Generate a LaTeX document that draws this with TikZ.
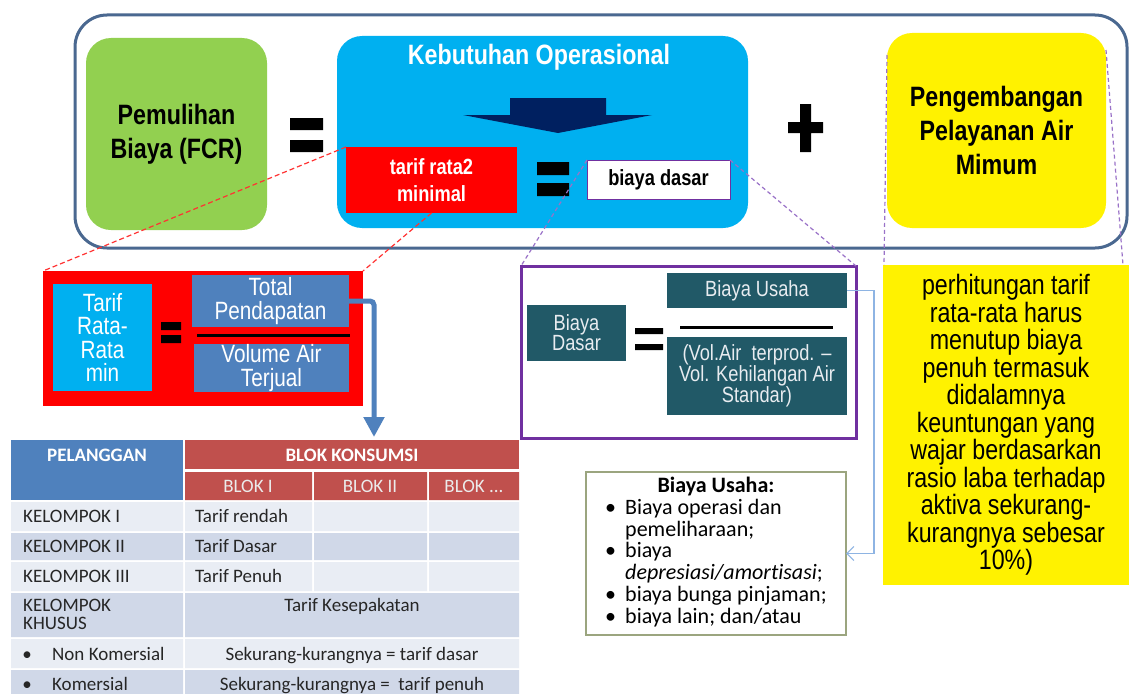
\documentclass[tikz,border=0pt]{standalone}
\usepackage{fontspec}
\setmainfont{Liberation Sans}
\newfontfamily\narrowfont[FakeStretch=0.83]{Liberation Sans}
\newfontfamily\calfont[Ligatures=NoCommon]{Carlito}
\usetikzlibrary{arrows.meta,positioning}
\definecolor{fcrgreen}{HTML}{92D050}
\definecolor{opsblue}{HTML}{00B0F0}
\definecolor{navyarrow}{HTML}{002060}
\definecolor{framegray}{HTML}{4A6890}
\definecolor{ptblue}{HTML}{4F81BD}
\definecolor{tealbox}{HTML}{215967}
\definecolor{purpleframe}{HTML}{7030A0}
\definecolor{dashpurple}{HTML}{9A72C8}
\definecolor{hdrred}{HTML}{C0504D}
\definecolor{rowlight}{HTML}{E9EDF4}
\definecolor{rowdark}{HTML}{D0D8E8}
\definecolor{linkblue}{HTML}{8EB4E3}
\definecolor{listframe}{HTML}{9BA57F}
\definecolor{palewhite}{HTML}{E8ECF0}
\tikzset{
  box/.style={inner sep=0pt, outer sep=0pt, align=center},
  roundbox/.style={box, rounded corners=25pt},
  headline/.style={font={\narrowfont\bfseries\fontsize{28}{34}\selectfont}},
  formtext/.style={font={\narrowfont\fontsize{25}{24}\selectfont}, text=white},
  tealtext/.style={box, fill=tealbox, text=palewhite, font={\narrowfont\fontsize{22}{21}\selectfont}},
  reddash/.style={red!80, line width=1.2pt, dash pattern=on 5pt off 3pt},
  purpledash/.style={dashpurple, line width=1.2pt, dash pattern=on 4pt off 3pt},
  cell/.style={inner sep=0pt, text height=12pt, text depth=0pt, text=black!85,
    font={\calfont\fontsize{19}{18}\selectfont}},
  hdr/.style={cell, text=white, font={\calfont\bfseries\fontsize{19}{18}\selectfont}},
  subhdr/.style={cell, text=white!92!black}
}
\begin{document}
\begin{tikzpicture}[x=1pt,y=-1pt]
  \clip (0,0) rectangle (1129,693);
  \fill[white] (0,0) rectangle (1129,693);

  % top row: FCR = operational needs + development
  \node[box, draw=framegray, line width=3pt, rounded corners=32pt,
    minimum width=1052pt, minimum height=233pt] (frame) at (601,131.5) {};
  \node[roundbox, fill=fcrgreen, minimum width=181pt, minimum height=192pt, headline] (fcr) at (176.5,134) {Pemulihan\\Biaya (FCR)};
  \fill (290,118) rectangle (323,130) (290,140) rectangle (323,152);
  \node[roundbox, fill=opsblue, minimum width=411pt, minimum height=192pt] (ops) at (542.5,132) {};
  \node[headline, text=white, inner sep=0pt] (opstitle) at (539,57) {Kebutuhan Operasional};
  \fill[navyarrow] (510,98) -- (606,98) -- (606,115) -- (652,115) -- (558,133) -- (463,115) -- (510,115) -- cycle;
  \node[box, fill=red, text=white, minimum width=171pt, minimum height=66pt,
    font={\narrowfont\bfseries\fontsize{22}{27}\selectfont}] (tarifmin) at (431.5,180) {tarif rata2\\minimal};
  \fill (537,162) rectangle (569,175) (537,183) rectangle (569,196);
  \node[box, fill=white, draw=purpleframe, line width=1pt, minimum width=143pt, minimum height=39pt,
    font={\narrowfont\bfseries\fontsize{22}{26}\selectfont}] (dasar) at (658.5,179.5) {biaya dasar};
  \fill (800,104) rectangle (811,152) (788,122) rectangle (823,133);
  \node[roundbox, fill=yellow, minimum width=219pt, minimum height=195pt, headline] (dev) at (996.5,130.5) {Pengembangan\\Pelayanan Air\\Mimum};

  % average tariff formula
  \node[box, fill=red, minimum width=320pt, minimum height=135pt] (formula) at (203,338.5) {};
  \node[box, fill=opsblue, minimum width=99pt, minimum height=107pt, formtext,
    font={\narrowfont\fontsize{25}{23.5}\selectfont}] (avg) at (102.5,337.5) {Tarif\\Rata-\\Rata\\min};
  \fill (161,322) rectangle (181,330) (161,335) rectangle (181,343);
  \node[box, fill=ptblue, minimum width=157pt, minimum height=52pt, formtext] (revenue) at (270.5,301) {Total\\Pendapatan};
  \draw[line width=3pt] (197,335) -- (350,335);
  \node[box, fill=ptblue, minimum width=155pt, minimum height=48pt, formtext] (volume) at (271.5,368) {Volume Air\\Terjual};

  % base cost formula
  \node[box, draw=purpleframe, line width=3pt, minimum width=335pt, minimum height=172pt] (dasarbox) at (688.5,352) {};
  \node[tealtext, minimum width=99pt, minimum height=56pt, font={\narrowfont\fontsize{22}{20}\selectfont}] (basecost) at (576.5,333) {Biaya\\Dasar};
  \fill (635,328) rectangle (663,334) (635,344) rectangle (663,350);
  \node[tealtext, minimum width=180pt, minimum height=35pt] (opcost) at (757,290.5) {Biaya Usaha};
  \draw[line width=3pt] (680,327) -- (833,327);
  \node[tealtext, minimum width=180pt, minimum height=78pt] (netvol) at (757,376) {(Vol.Air\ \ terprod. –\\Vol. Kehilangan Air\\Standar)};

  % note on full cost
  \node[box, fill=yellow, minimum width=246pt, minimum height=320pt,
    font={\narrowfont\fontsize{28}{27.5}\selectfont}] (note) at (1006,425)
    {perhitungan tarif\\rata-rata harus\\menutup biaya\\penuh termasuk\\didalamnya\\keuntungan yang\\wajar berdasarkan\\rasio laba terhadap\\aktiva sekurang-\\kurangnya sebesar\\10\%)};

  % list of operating costs
  \node[box, draw=listframe, line width=1.5pt, fill=white, minimum width=260pt, minimum height=163pt,
    font={\calfont\fontsize{22}{21.8}\selectfont}] (usaha) at (716,553.5)
    {\begin{tabular}{@{}p{20pt}@{}l@{}}
      \multicolumn{2}{c}{\textbf{Biaya Usaha:}}\\
      \textbullet & Biaya operasi dan\\
       & pemeliharaan;\\
      \textbullet & biaya\\
       & \textit{depresiasi/amortisasi};\\
      \textbullet & biaya bunga pinjaman;\\
      \textbullet & biaya lain; dan/atau
    \end{tabular}};

  % tariff table
  \fill[ptblue] (11,440) rectangle (183,500);
  \fill[hdrred] (185,440) rectangle (519,469);
  \fill[hdrred] (185,472) rectangle (312,500) (314,472) rectangle (427,500) (429,472) rectangle (519,500);
  \foreach \ya/\yb/\shade in {502/531/rowlight, 533/560/rowdark, 562/591/rowlight}
    \fill[\shade] (11,\ya) rectangle (183,\yb) (185,\ya) rectangle (312,\yb)
      (314,\ya) rectangle (427,\yb) (429,\ya) rectangle (519,\yb);
  \foreach \ya/\yb/\shade in {593/637/rowdark, 639/668/rowlight, 670/700/rowdark}
    \fill[\shade] (11,\ya) rectangle (183,\yb) (185,\ya) rectangle (519,\yb);
  \coordinate (tabletop) at (374,437);
  \node[hdr] (cust) at (97,455) {PELANGGAN};
  \node[hdr] (blocks) at (352,455) {BLOK KONSUMSI};
  \node[subhdr] (blok1) at (248,486) {BLOK I};
  \node[subhdr] (blok2) at (370,486) {BLOK II};
  \node[subhdr] (blok3) at (474,486) {BLOK ...};
  \node[cell, anchor=west] (grp1) at (23,516) {KELOMPOK I};
  \node[cell, anchor=west] (grp2) at (23,546) {KELOMPOK II};
  \node[cell, anchor=west] (grp3) at (23,576) {KELOMPOK III};
  \node[cell, anchor=west, align=left, text height=30pt] (grp4) at (23,614) {KELOMPOK\\KHUSUS};
  \node[cell] (dot5) at (27,654) {\textbullet};
  \node[cell, anchor=west] (grp5) at (52,654) {Non Komersial};
  \node[cell] (dot6) at (27,684) {\textbullet};
  \node[cell, anchor=west] (grp6) at (52,684) {Komersial};
  \node[cell, anchor=west] (low) at (195,516) {Tarif rendah};
  \node[cell, anchor=west] (base) at (195,546) {Tarif Dasar};
  \node[cell, anchor=west] (full) at (195,576) {Tarif Penuh};
  \node[cell] (deal) at (352,605) {Tarif Kesepakatan};
  \node[cell] (noncom) at (352,654) {Sekurang-kurangnya = tarif dasar};
  \node[cell] (com) at (352,684) {Sekurang-kurangnya =\ \ tarif penuh};

  % connectors
  \draw[reddash] (tarifmin.north west) -- (formula.north west);
  \draw[reddash] (tarifmin.south) -- (formula.north east);
  \draw[purpledash] (dasar.north west) -- (dasarbox.north west);
  \draw[purpledash] (dasar.north east) -- (dasarbox.north east);
  \draw[purpledash] ([yshift=-22pt]dev.north west) -- ([xshift=1pt]note.north west);
  \draw[purpledash] ([yshift=-17pt]dev.north east) -- ([xshift=-6pt]note.north east);
  \draw[ptblue, line width=5pt, rounded corners=4pt, -{Triangle[width=20pt,length=20pt]}]
    (revenue.east) -| (tabletop);
  \draw[linkblue, line width=1.2pt, -{Straight Barb[length=7pt,width=14pt]}]
    (opcost.east) -- ++(27,0) |- (usaha.east);
\end{tikzpicture}
\end{document}
